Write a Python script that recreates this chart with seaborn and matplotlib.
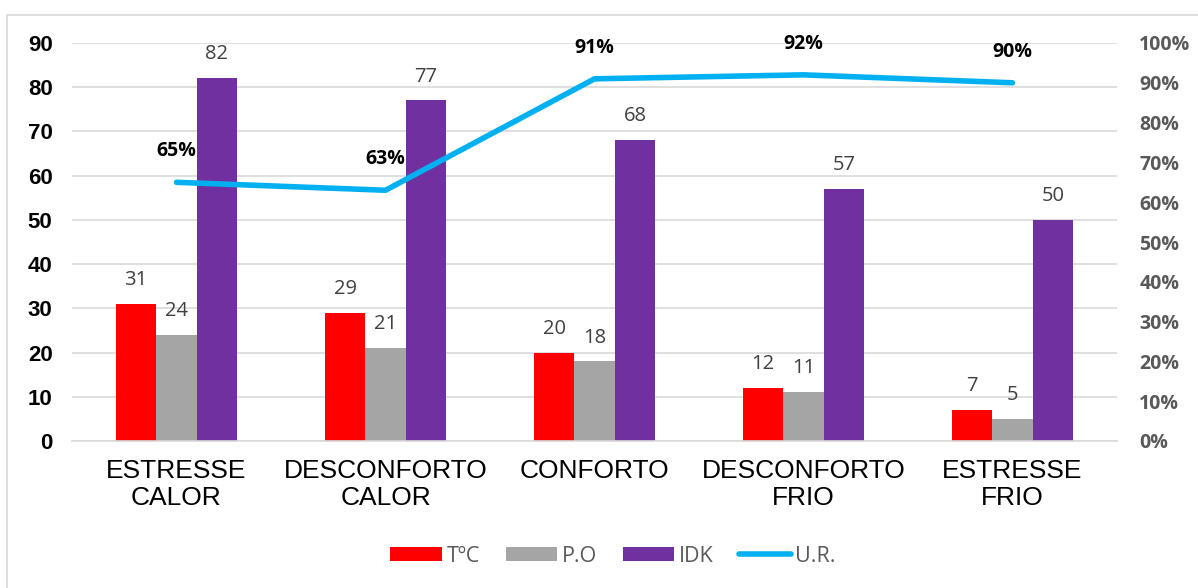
import numpy as np
import pandas as pd
import matplotlib
matplotlib.use("Agg")
import matplotlib.pyplot as plt
import seaborn as sns
from matplotlib.patches import Rectangle, Patch
from matplotlib.lines import Line2D
from matplotlib.ticker import FixedLocator, PercentFormatter

categories = ["ESTRESSE\nCALOR", "DESCONFORTO\nCALOR", "CONFORTO", "DESCONFORTO\nFRIO", "ESTRESSE\nFRIO"]
temp = [31, 29, 20, 12, 7]
po = [24, 21, 18, 11, 5]
idk = [82, 77, 68, 57, 50]
ur = [0.65, 0.63, 0.91, 0.92, 0.90]
series_names = ["TºC", "P.O", "IDK"]
colors = ["#FF0000", "#A5A5A5", "#7030A0"]
line_name = "U.R."
line_color = "#00B0F0"

sns.set_theme(style="white")
df = pd.DataFrame({
    "cat": categories * 3,
    "serie": [s for s in series_names for _ in categories],
    "val": temp + po + idk,
})

fig = plt.figure(figsize=(11.98, 5.88), dpi=100)
ax = fig.add_axes([72/1198, 1 - 441/588, (1117-72)/1198, (441-43)/588])
sns.barplot(data=df, x="cat", y="val", hue="serie", order=categories,
            hue_order=series_names, palette=colors, width=0.58, ax=ax,
            saturation=1, legend=False, errorbar=None, linewidth=0)

for cont in ax.containers:
    ax.bar_label(cont, padding=10, fontsize=14.5, color="#404040", family="Open Sans")

ax2 = ax.twinx()
sns.pointplot(x=categories, y=ur, ax=ax2, color=line_color, markers="",
              linewidth=4, errorbar=None, order=categories)
for l in ax2.lines:
    l.set_solid_capstyle("round")
    l.set_solid_joinstyle("round")
ax2.set_ylim(0, 1)
ax2.set_yticks(np.arange(0, 1.01, 0.1))
ax2.yaxis.set_major_formatter(PercentFormatter(1.0, decimals=0))
ax2.tick_params(axis="y", length=0, pad=16)
for lab in ax2.get_yticklabels():
    lab.set_fontsize(14)
    lab.set_fontweight("bold")
    lab.set_family("Open Sans")
    lab.set_color("#595959")
for s in ["top", "right", "left", "bottom"]:
    ax2.spines[s].set_visible(False)
ax2.grid(False)
ax2.set_ylabel("")
ax2.set_xlabel("")

for i, v in enumerate(ur):
    ax2.annotate(f"{v:.0%}", (i, v), xytext=(0, 15), textcoords="offset points",
                 ha="center", va="bottom", fontsize=14, fontweight="bold",
                 family="Open Sans", color="black")

ax.set_ylim(0, 90)
ax.set_xlim(-0.5, 4.5)
ax.set_yticks(np.arange(0, 91, 10))
ax.set_ylabel("")
ax.set_xlabel("")
ax.yaxis.grid(True, color="#D9D9D9", linewidth=1.2)
ax.set_axisbelow(True)
for s in ["top", "right", "left"]:
    ax.spines[s].set_visible(False)
ax.spines["bottom"].set_color("#D9D9D9")
ax.spines["bottom"].set_linewidth(1.2)
ax.tick_params(axis="y", length=0, pad=14)
for lab in ax.get_yticklabels():
    lab.set_fontsize(16)
    lab.set_fontweight("bold")
    lab.set_family("Liberation Sans")
    lab.set_color("black")
ax.set_xticks(range(len(categories)))
ax.set_xticklabels(categories, fontsize=19, family="Liberation Sans", color="black", linespacing=1.15)
ax.tick_params(axis="x", length=0, pad=13, labelbottom=True)
ax.xaxis.set_minor_locator(FixedLocator(np.arange(-0.5, 5, 1)))
ax.tick_params(axis="x", which="minor", length=8, color="#D9D9D9", width=1.2, direction="out")
ax2.tick_params(axis="x", length=0)

handles = [Patch(facecolor=c, edgecolor="none") for c in colors]
handles.append(Line2D([0], [0], color=line_color, linewidth=4, solid_capstyle="round"))
leg = fig.legend(handles, series_names + [line_name], loc="center",
                 bbox_to_anchor=(613/1198, 1 - 556/588), ncol=4, frameon=False,
                 prop={"family": "Open Sans", "size": 15.5}, handlelength=2.4,
                 handleheight=0.65, handletextpad=0.2, columnspacing=1.2)
for t in leg.get_texts():
    t.set_color("#595959")

fig.patches.append(Rectangle((7/1198, -0.05), 1.2, 1 - 15/588 + 0.05,
                             transform=fig.transFigure, fill=False,
                             edgecolor="#D9D9D9", linewidth=1.2))

fig.savefig("out.png", dpi=100)
